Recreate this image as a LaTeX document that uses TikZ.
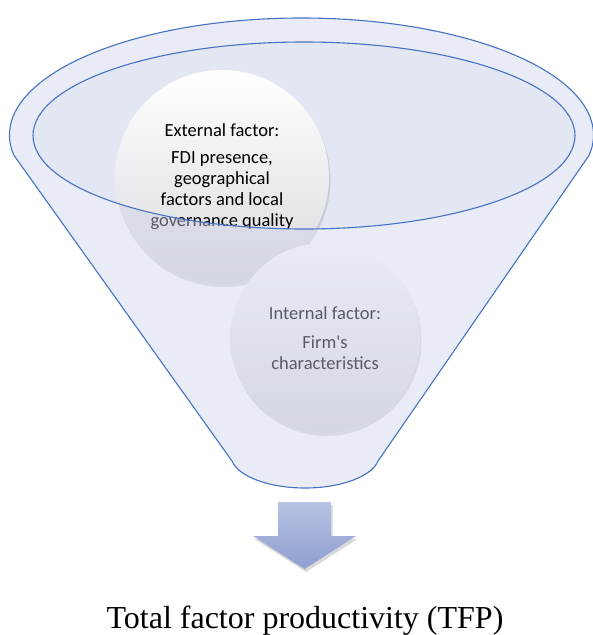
\documentclass[tikz,border=0pt]{standalone}
\usepackage{fontspec}
\setmainfont{Liberation Serif}
\newfontfamily\calib{Carlito}
\usetikzlibrary{shadows,calc}
\definecolor{funnelblue}{HTML}{4472C4}
\definecolor{funnelback}{HTML}{E2E7F3}
\definecolor{funnelfront}{HTML}{CDD3EA}
\definecolor{circlelow}{HTML}{DADBDF}
\definecolor{arrowtop}{HTML}{B7C3E3}
\definecolor{arrowlow}{HTML}{8E9ECF}
\tikzset{
  rim/.style={draw=funnelblue,line width=1.1pt},
  factor/.style={circle,minimum size=#1,inner sep=0pt,align=center,
    font=\calib\fontsize{18.5}{21}\selectfont,
    top color=white,middle color=white,bottom color=circlelow,
    drop shadow={opacity=.25,shadow xshift=1.5pt,shadow yshift=-3pt}},
  front/.style={fill=funnelfront,fill opacity=.43,even odd rule},
  downarrow/.style={top color=arrowtop,bottom color=arrowlow,
    drop shadow={opacity=.3,shadow xshift=1.5pt,shadow yshift=-3pt}}
}
\begin{document}
\begin{tikzpicture}[x=1pt,y=-1pt]
\useasboundingbox(0,0)rectangle(593,635);
% opening of the funnel
\fill[funnelback](304,135.5)ellipse[x radius=271,y radius=93.5];
% the two factors
\node[factor=214pt](ext)at(222,177){External factor:\\[6pt]FDI presence,\\geographical\\factors and local\\governance quality};
\node[factor=190pt](int)at(325,338){Internal factor:\\[8pt]Firm's\\characteristics};
% body of the funnel, seen through
\coordinate(lrim)at($(301.5,135)+(170:292 and 117)$);
\path[front](lrim)arc[start angle=170,end angle=370,x radius=292,y radius=117]--(378,461)
  ..controls(372,476)and(342,488)..(305,488)..controls(268,488)and(238,476)..(232,461)--cycle
  (304,135.5)ellipse[x radius=271,y radius=93.5];
\draw[rim](lrim)arc[start angle=170,end angle=370,x radius=292,y radius=117]--(378,461)
  ..controls(372,476)and(342,488)..(305,488)..controls(268,488)and(238,476)..(232,461)--cycle;
\draw[rim](304,135.5)ellipse[x radius=271,y radius=93.5];
% arrow and result
\path[downarrow](278,502)--(331,502)--(331,536)--(356,536)--(304.5,569)--(253,536)--(278,536)--cycle;
\node[font=\fontsize{32}{38}\selectfont,anchor=base](tfp)at(305,628){Total factor productivity (TFP)};
\end{tikzpicture}
\end{document}
